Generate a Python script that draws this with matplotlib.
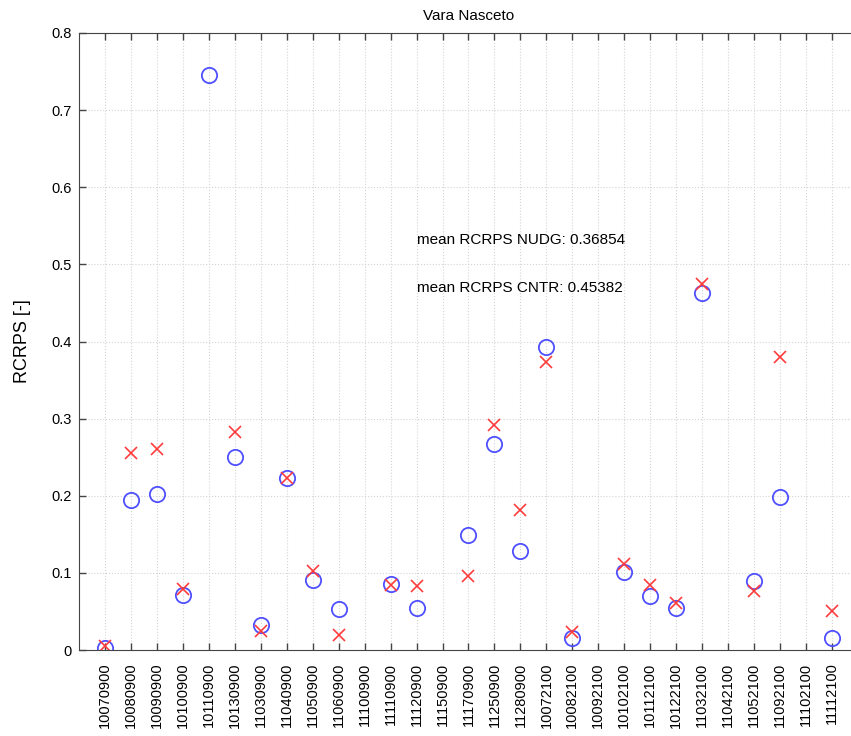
import numpy as np
import matplotlib
matplotlib.use('Agg')
import matplotlib.pyplot as plt

# forecast run dates (yymmddhh)
dates = ['10070900', '10080900', '10090900', '10100900', '10110900',
         '10130900', '11030900', '11040900', '11050900', '11060900',
         '11100900', '11110900', '11120900', '11150900', '11170900',
         '11250900', '11280900', '10072100', '10082100', '10092100',
         '10102100', '10112100', '10122100', '11032100', '11042100',
         '11052100', '11092100', '11102100', '11112100']

# RCRPS per run, NaN where the run is missing
rcrps_nudg = [0.003, 0.195, 0.202, 0.071, 0.745, 0.250, 0.032, 0.223, 0.091, 0.053,
              np.nan, 0.085, 0.054, np.nan, 0.149, 0.267, 0.128, 0.393, 0.016, np.nan,
              0.101, 0.070, 0.054, 0.463, np.nan, 0.089, 0.199, np.nan, 0.015]
rcrps_cntr = [0.005, 0.256, 0.261, 0.079, np.nan, 0.283, 0.025, 0.223, 0.102, 0.019,
              np.nan, 0.084, 0.083, np.nan, 0.096, 0.292, 0.182, 0.374, 0.023, np.nan,
              0.112, 0.084, 0.061, 0.475, np.nan, 0.076, 0.380, np.nan, 0.050]

mean_nudg = 0.36854
mean_cntr = 0.45382

plt.rcParams['font.family'] = ['Liberation Sans', 'DejaVu Sans']

fig = plt.figure(figsize=(8.51, 7.36), dpi=100)
ax = fig.add_axes([0.0928, 0.1168, 0.9154, 0.8384])

x = np.arange(1, len(dates) + 1)
ax.plot(x, rcrps_nudg, 'o', mfc='none', mec='#4f4fff', ms=11, mew=1.3)
ax.plot(x, rcrps_cntr, 'x', color='#ff3c3c', ms=8.5, mew=1.2)

ax.text(13.0, 0.532, 'mean RCRPS NUDG: %.5f' % mean_nudg, fontsize=11, va='center')
ax.text(13.0, 0.470, 'mean RCRPS CNTR: %.5f' % mean_cntr, fontsize=11, va='center')

ax.set_xlim(0, 30)
ax.set_ylim(0, 0.8)
ax.set_xticks(x)
ax.set_xticklabels(dates, rotation=90, fontsize=10.5)
ax.set_yticks(np.arange(0, 0.81, 0.1))
ax.set_yticklabels(['0', '0.1', '0.2', '0.3', '0.4', '0.5', '0.6', '0.7', '0.8'], fontsize=10.5)
ax.tick_params(direction='in', top=True, right=True, length=5, color='#444444', width=1.0)
ax.tick_params(axis='x', pad=9)
ax.tick_params(axis='y', pad=5)
ax.grid(True, linestyle=':', color='#d4d4d4', linewidth=0.8)
for s in ax.spines.values():
    s.set_color('#444444')

ax.set_title('Vara Nasceto', fontsize=11, pad=9)
ax.set_ylabel('RCRPS [-]', fontsize=13, labelpad=15)

fig.savefig('out.png', dpi=100)
